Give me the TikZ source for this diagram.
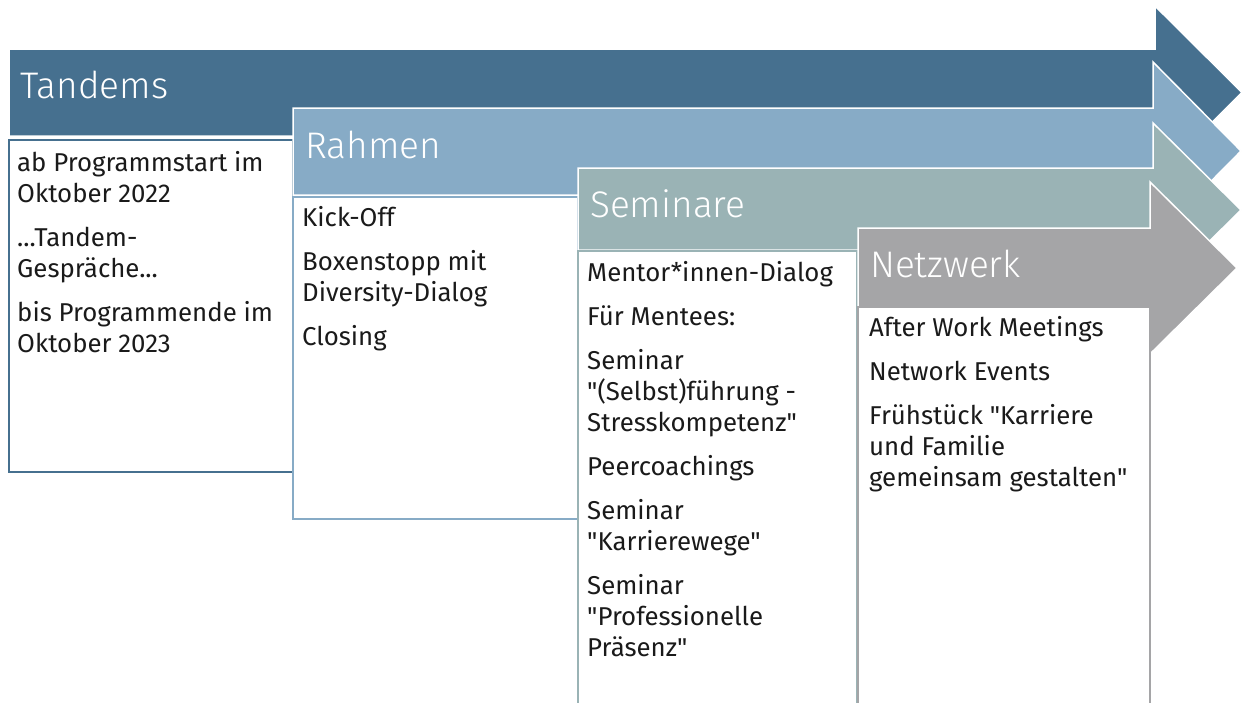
\documentclass[tikz,border=0pt]{standalone}
\usepackage{fontspec}
\setmainfont{Fira Sans}[Ligatures=TeXOff]
\newfontfamily\titlefont{Fira Sans Light}
\definecolor{cA}{HTML}{46708F}
\definecolor{cB}{HTML}{87ABC6}
\definecolor{cC}{HTML}{9AB3B5}
\definecolor{cD}{HTML}{A5A5A7}
\definecolor{txt}{HTML}{1A1A1A}
\begin{document}
\begin{tikzpicture}[x=1pt,y=-1pt,
  arrowshape/.style={draw=white, line width=1.5pt},
  boxshape/.style={fill=white, line width=2pt},
  title/.style={anchor=base west, inner sep=0pt, text=white, font=\titlefont\fontsize{37}{40}\selectfont},
  body/.style={anchor=north west, inner sep=0pt, align=left, text=txt, font=\fontsize{25.8}{31}\selectfont}]
\useasboundingbox (0,0) rectangle (1242,702);
\def\pg{13pt}
% Arrow 1
\path[arrowshape, fill=cA] (9,49) -- (1155,49) -- (1155,6) -- (1242,92.5) -- (1155,179) -- (1155,136) -- (9,136) -- cycle;
\node[title] (t1) at (20,98) {Tandems};
\draw[boxshape, draw=cA] (9,140) rectangle (293,472);
\node[body] (b1) at (17,149.6) {\strut ab Programmstart im\\ Oktober 2022\\[\pg] ...Tandem-\\ Gespräche...\\[\pg] bis Programmende im\\ Oktober 2023};
% Arrow 2
\path[arrowshape, fill=cB] (293,108) -- (1153,108) -- (1153,62) -- (1241,151) -- (1153,240) -- (1153,195) -- (293,195) -- cycle;
\node[title] (t2) at (305,158) {Rahmen};
\draw[boxshape, draw=cB] (293,197) rectangle (578,519);
\node[body] (b2) at (302,204.6) {\strut Kick-Off\\[\pg] Boxenstopp mit\\ Diversity-Dialog\\[\pg] Closing};
% Arrow 3
\path[arrowshape, fill=cC] (578,168) -- (1153,168) -- (1153,123) -- (1241,210) -- (1153,297) -- (1153,250) -- (578,250) -- cycle;
\node[title] (t3) at (590,217) {Seminare};
\draw[boxshape, draw=cC] (578,251) rectangle (857,715);
\node[body] (b3) at (587,259.6) {\strut Mentor*innen-Dialog\\[\pg] Für Mentees:\\[\pg] Seminar\\ "(Selbst)führung -\\ Stresskompetenz"\\[\pg] Peercoachings\\[\pg] Seminar\\ "Karrierewege"\\[\pg] Seminar\\ "Professionelle\\ Präsenz"};
% Arrow 4
\path[arrowshape, fill=cD] (858,228) -- (1150,228) -- (1150,182) -- (1237,268) -- (1150,354) -- (1150,310) -- (858,310) -- cycle;
\node[title] (t4) at (870,277) {Netzwerk};
\draw[boxshape, draw=cD] (858,307) rectangle (1150,715);
\node[body] (b4) at (869,315) {\strut After Work Meetings\\[\pg] Network Events\\[\pg] Frühstück "Karriere\\ und Familie\\ gemeinsam gestalten"};
\end{tikzpicture}
\end{document}
